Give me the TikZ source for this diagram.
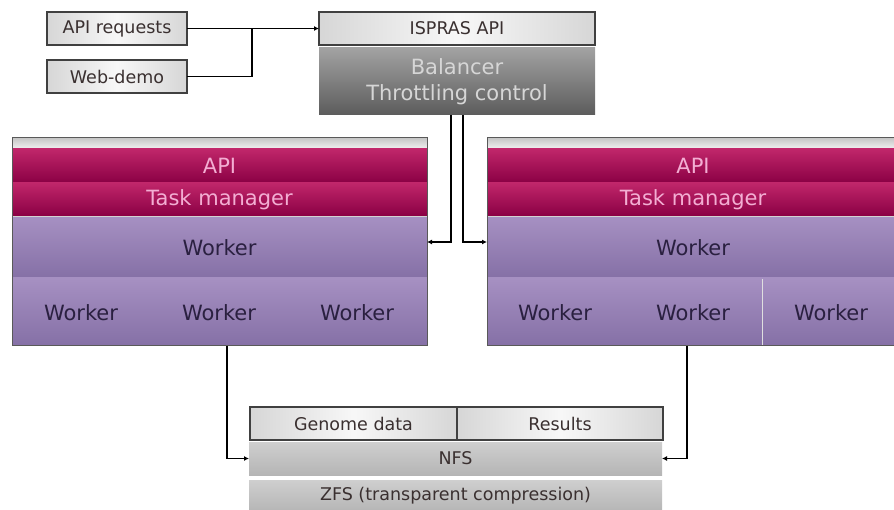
\documentclass[tikz,border=0pt]{standalone}
\usepackage{fontspec}
\setmainfont{DejaVu Sans}
\usetikzlibrary{arrows.meta}
\definecolor{crimT}{HTML}{C0266A}
\definecolor{crimB}{HTML}{8A0044}
\definecolor{crimTxt}{HTML}{F3AED3}
\definecolor{purT}{HTML}{A690C2}
\definecolor{purB}{HTML}{8570A6}
\definecolor{purTxt}{HTML}{2A2040}
\definecolor{balT}{HTML}{A2A2A2}
\definecolor{balB}{HTML}{5C5C5C}
\definecolor{balTxt}{HTML}{D6D6D6}
\definecolor{edge}{HTML}{404040}
\definecolor{txtg}{HTML}{3A3030}
\newcommand{\bigtxt}{\fontsize{21}{24}\selectfont}
\newcommand{\smalltxt}{\fontsize{17.5}{20}\selectfont}
\tikzset{
  base/.style={anchor=north west, inner sep=0pt, outer sep=0pt},
  lightbox/.style={base, draw=edge, line width=1.2pt, left color=gray!32, right color=gray!32, middle color=gray!6, text=txtg, font=\smalltxt},
  greybar/.style={base, top color=gray!38, bottom color=gray!58, text=txtg, font=\smalltxt},
  crimband/.style={base, top color=crimT, bottom color=crimB, text=crimTxt, font=\bigtxt},
  purband/.style={base, top color=purT, bottom color=purB, text=purTxt, font=\bigtxt},
  strip/.style={base, top color=gray!45, bottom color=gray!10},
  outline/.style={base, draw=gray!70!black, line width=1pt},
  cell/.style={inner sep=0pt, text=purTxt, font=\bigtxt},
  wire/.style={line width=1.4pt, black},
  conn/.style={wire, -{Latex[length=5pt,width=5pt]}},
}
\begin{document}
\begin{tikzpicture}[x=1pt, y=-1pt]
\useasboundingbox (0,0) rectangle (894,510);
\clip (0,0) rectangle (894,510);
% input boxes
\node[lightbox, minimum width=140pt, minimum height=33pt] (req) at (47,12) {API requests};
\node[lightbox, minimum width=140pt, minimum height=33pt] (web) at (47,60) {Web-demo};
% ISPRAS API + balancer
\node[lightbox, minimum width=276pt, minimum height=33pt] (ispras) at (319,12) {ISPRAS API};
\node[base, minimum width=276pt, minimum height=67pt, top color=balT, bottom color=balB, text=balTxt, font=\bigtxt, align=center] (bal) at (319,48) {Balancer\\[2pt]Throttling control};
% left panel
\node[strip, minimum width=415pt, minimum height=11pt] (lstrip) at (12,138) {};
\node[crimband, minimum width=415pt, minimum height=34pt] (lapi) at (12,149) {API};
\node[crimband, minimum width=415pt, minimum height=33pt] (ltm) at (12,183) {Task manager};
\node[purband, minimum width=415pt, minimum height=61pt] (lwk) at (12,217) {Worker};
\node[purband, minimum width=415pt, minimum height=68pt] (lbot) at (12,278) {};
\draw[gray!35, line width=1pt] (lwk.north west) -- (lwk.north east);
\node[cell] (lw1) at (81,313) {Worker};
\node[cell] (lw2) at (219,313) {Worker};
\node[cell] (lw3) at (357,313) {Worker};
\node[outline, minimum width=415pt, minimum height=208pt] (lp) at (12,138) {};
% right panel
\node[strip, minimum width=412pt, minimum height=11pt] (rstrip) at (487,138) {};
\node[crimband, minimum width=412pt, minimum height=34pt] (rapi) at (487,149) {API};
\node[crimband, minimum width=412pt, minimum height=33pt] (rtm) at (487,183) {Task manager};
\node[purband, minimum width=412pt, minimum height=61pt] (rwk) at (487,217) {Worker};
\node[purband, minimum width=412pt, minimum height=68pt] (rbot) at (487,278) {};
\draw[gray!35, line width=1pt] (rwk.north west) -- (rwk.north east);
\draw[gray!25, line width=1pt] (762,279) -- (762,345);
\node[cell] (rw1) at (555,313) {Worker};
\node[cell] (rw2) at (693,313) {Worker};
\node[cell] (rw3) at (831,313) {Worker};
\node[outline, minimum width=412pt, minimum height=208pt] (rp) at (487,138) {};
% storage
\node[lightbox, minimum width=207pt, minimum height=33pt] (gen) at (250,407) {Genome data};
\node[lightbox, minimum width=206pt, minimum height=33pt] (res) at (457,407) {Results};
\node[greybar, minimum width=413pt, minimum height=33pt] (nfs) at (249,442) {NFS};
\node[greybar, minimum width=413pt, minimum height=32pt] (zfs) at (249,480) {ZFS (transparent compression)};
% connectors
\coordinate (j) at (252,28);
\draw[conn] (req.east) -- (ispras.west);
\draw[wire] (web.east) -| (j);
\coordinate (b1) at (451,115);
\coordinate (b2) at (463,115);
\draw[conn] (b1) |- (lp.east);
\draw[conn] (b2) |- (rp.west);
\coordinate (l1) at (227,346);
\coordinate (r1) at (687,346);
\draw[conn] (l1) |- (nfs.west);
\draw[conn] (r1) |- (nfs.east);
\end{tikzpicture}
\end{document}
